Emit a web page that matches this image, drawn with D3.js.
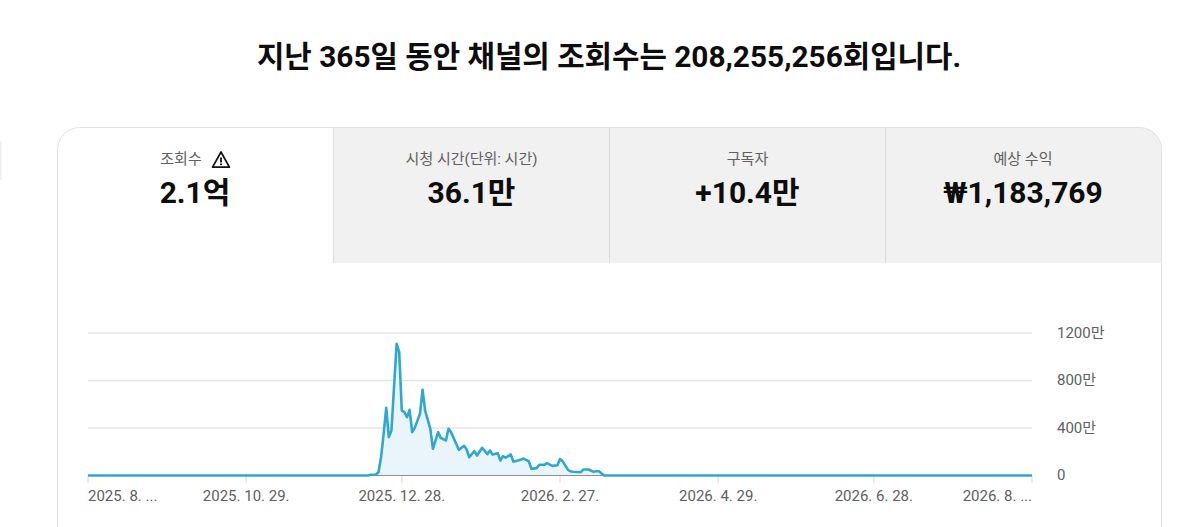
<!DOCTYPE html>
<html lang="ko">
<head>
<meta charset="UTF-8">
<title>채널 조회수</title>
<script src="https://cdnjs.cloudflare.com/ajax/libs/d3/7.8.5/d3.min.js"></script>
<style>
    html, body { margin: 0; padding: 0; background: #fff; overflow: hidden; }
    svg { display: block; }
    text { font-family: Roboto, "Noto Sans CJK KR", sans-serif; }
</style>
</head>
<body>
<svg id="chart" width="1188" height="527"></svg>
<script>
const titleText = "지난 365일 동안 채널의 조회수는 208,255,256회입니다.";
const tabLabels = ["조회수", "시청 시간(단위: 시간)", "구독자", "예상 수익"];
const tabValues = ["2.1억", "36.1만", "+10.4만", "₩1,183,769"];

// days since 2025-08-29, views in units of 만
const dayOffsets = [0, 108, 109, 111, 112, 113, 114, 115, 116, 117, 119, 120, 121, 122, 123, 124, 125, 126, 128, 129,
    130, 132, 133, 135, 136, 138, 139, 140, 143, 145, 146, 147, 149, 150, 152, 154, 155, 156, 158,
    159, 160, 161, 163, 164, 165, 167, 168, 170, 171, 173, 174, 176, 177, 179, 181, 182, 183, 185, 186,
    187, 190, 191, 193, 195, 196, 197, 199, 364];
const views = [0, 0, 6, 8, 28, 154, 351, 570, 323, 379, 1109, 1039, 547, 533, 491, 553, 365, 401, 519, 721,
    547, 393, 225, 365, 317, 295, 393, 365, 216, 250, 219, 154, 205, 168, 233, 180, 210, 176, 188,
    126, 163, 151, 177, 118, 121, 135, 143, 118, 56, 62, 90, 90, 104, 81, 87, 138, 121, 50, 36,
    31, 28, 50, 50, 31, 36, 36, 0, 0];

const yTicks = [0, 400, 800, 1200];
const yTickLabels = ["0", "400만", "800만", "1200만"];
const xTickOffsets = [0, 61, 121, 182, 243, 303, 364];
const xTickLabels = ["2025. 8. ...", "2025. 10. 29.", "2025. 12. 28.", "2026. 2. 27.", "2026. 4. 29.", "2026. 6. 28.", "2026. 8. ..."];

const startDate = new Date(2025, 7, 29);
const toDate = d => d3.timeDay.offset(startDate, d);

const svg = d3.select("#chart");

// left page edge sliver
svg.append("rect").attr("x", 0).attr("y", 141).attr("width", 1.5).attr("height", 39).attr("fill", "#eeeeee");

// title
svg.append("text")
    .attr("x", 609).attr("y", 67)
    .attr("text-anchor", "middle")
    .attr("font-size", 29.8).attr("font-weight", 700).attr("fill", "#0d0d0d")
    .text(titleText);

// card
const cardLeft = 57.5, cardRight = 1161.5, cardTop = 127.5, tabBottom = 263;
const tabWidth = (cardRight - cardLeft) / 4;
const r = 22;

const defs = svg.append("defs");
defs.append("clipPath").attr("id", "card-clip").append("rect")
    .attr("x", cardLeft).attr("y", cardTop)
    .attr("width", cardRight - cardLeft).attr("height", 500).attr("rx", r);

svg.append("g").attr("clip-path", "url(#card-clip)")
    .selectAll("rect")
    .data([1, 2, 3])
    .enter()
    .append("rect")
    .attr("x", d => cardLeft + d * tabWidth)
    .attr("y", cardTop)
    .attr("width", tabWidth)
    .attr("height", tabBottom - cardTop)
    .attr("fill", "#f1f1f1");

svg.append("g")
    .selectAll("line")
    .data([1, 2, 3])
    .enter()
    .append("line")
    .attr("x1", d => Math.round(cardLeft + d * tabWidth) - 0.5)
    .attr("x2", d => Math.round(cardLeft + d * tabWidth) - 0.5)
    .attr("y1", cardTop).attr("y2", tabBottom)
    .attr("stroke", "#dcdcdc").attr("stroke-width", 1);

svg.append("rect")
    .attr("x", cardLeft).attr("y", cardTop)
    .attr("width", cardRight - cardLeft).attr("height", 500).attr("rx", r)
    .attr("fill", "none").attr("stroke", "#e2e2e2");

// tab text
const tabCenters = [196, 471.5, 747.5, 1023];
svg.append("g").selectAll("text")
    .data(tabLabels)
    .enter()
    .append("text")
    .attr("x", (d, i) => i === 0 ? 181 : tabCenters[i])
    .attr("y", 164)
    .attr("text-anchor", "middle")
    .attr("font-size", 15).attr("fill", "#606060")
    .text(d => d);

svg.append("g").selectAll("text")
    .data(tabValues)
    .enter()
    .append("text")
    .attr("x", (d, i) => i === 0 ? 195 : tabCenters[i])
    .attr("y", 203)
    .attr("text-anchor", "middle")
    .attr("font-size", 30).attr("font-weight", 700).attr("fill", "#0d0d0d")
    .text(d => d);

// warning icon
const warn = svg.append("g").attr("transform", "translate(221,160)");
warn.append("path").attr("d", "M0,-8 L8.4,7.2 L-8.4,7.2 Z")
    .attr("fill", "none").attr("stroke", "#111").attr("stroke-width", 1.7).attr("stroke-linejoin", "round");
warn.append("rect").attr("x", -0.9).attr("y", -2.5).attr("width", 1.8).attr("height", 5).attr("fill", "#111");
warn.append("rect").attr("x", -0.9).attr("y", 3.4).attr("width", 1.8).attr("height", 1.8).attr("fill", "#111");

// chart
const x = d3.scaleTime().domain([toDate(0), toDate(364)]).range([88, 1032]);
const y = d3.scaleLinear().domain([0, 1200]).range([475.5, 333]);

svg.append("g").selectAll("line")
    .data(yTicks.filter(d => d > 0))
    .enter()
    .append("line")
    .attr("x1", 88).attr("x2", 1032)
    .attr("y1", d => y(d)).attr("y2", d => y(d))
    .attr("stroke", "#e4e4e4").attr("stroke-width", 1.4);

svg.append("g").selectAll("text")
    .data(yTicks)
    .enter()
    .append("text")
    .attr("x", 1057)
    .attr("y", d => y(d) + 4.5)
    .attr("font-size", 15).attr("fill", "#606060")
    .text((d, i) => yTickLabels[i]);

svg.append("g").selectAll("line")
    .data(xTickOffsets)
    .enter()
    .append("line")
    .attr("x1", d => x(toDate(d))).attr("x2", d => x(toDate(d)))
    .attr("y1", 476).attr("y2", 483)
    .attr("stroke", "#e4e4e4").attr("stroke-width", 1.4);

svg.append("g").selectAll("text")
    .data(xTickOffsets)
    .enter()
    .append("text")
    .attr("x", d => x(toDate(d)))
    .attr("y", 501)
    .attr("text-anchor", (d, i) => i === 0 ? "start" : i === xTickOffsets.length - 1 ? "end" : "middle")
    .attr("font-size", 15).attr("fill", "#606060")
    .text((d, i) => xTickLabels[i]);

const series = dayOffsets.map((d, i) => ({ date: toDate(d), value: views[i] }));

const area = d3.area().x(d => x(d.date)).y0(y(0)).y1(d => y(d.value));
const line = d3.line().x(d => x(d.date)).y(d => y(d.value));

svg.append("path").datum(series).attr("d", area).attr("fill", "#eaf5fb");

svg.append("line")
    .attr("x1", 88).attr("x2", 1032)
    .attr("y1", y(0)).attr("y2", y(0))
    .attr("stroke", "#8e8e8e").attr("stroke-width", 1);

svg.append("path").datum(series)
    .attr("d", line)
    .attr("fill", "none")
    .attr("stroke", "#2fa8cf").attr("stroke-width", 2.6)
    .attr("stroke-linejoin", "round");
</script>
</body>
</html>
